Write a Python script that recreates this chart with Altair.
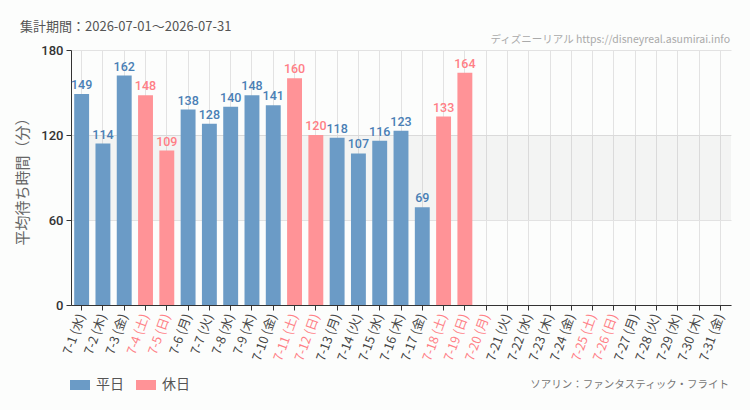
import altair as alt
import pandas as pd

# ---- data ----
dates = ["7-1", "7-2", "7-3", "7-4", "7-5", "7-6", "7-7", "7-8", "7-9", "7-10",
         "7-11", "7-12", "7-13", "7-14", "7-15", "7-16", "7-17", "7-18", "7-19", "7-20",
         "7-21", "7-22", "7-23", "7-24", "7-25", "7-26", "7-27", "7-28", "7-29", "7-30", "7-31"]
weekdays = ["水", "木", "金", "土", "日", "月", "火", "水", "木", "金",
            "土", "日", "月", "火", "水", "木", "金", "土", "日", "月",
            "火", "水", "木", "金", "土", "日", "月", "火", "水", "木", "金"]
day_types = ["平日", "平日", "平日", "休日", "休日", "平日", "平日", "平日", "平日", "平日",
             "休日", "休日", "平日", "平日", "平日", "平日", "平日", "休日", "休日", "休日",
             "平日", "平日", "平日", "平日", "休日", "休日", "平日", "平日", "平日", "平日", "平日"]
wait_minutes = [149, 114, 162, 148, 109, 138, 128, 140, 148, 141,
                160, 120, 118, 107, 116, 123, 69, 133, 164, None,
                None, None, None, None, None, None, None, None, None, None, None]
y_ticks = [0, 60, 120, 180]
band_range = [60, 120]

title_text = "集計期間：2026-07-01～2026-07-31"
site_text = "ディズニーリアル https://disneyreal.asumirai.info"
credit_text = "ソアリン：ファンタスティック・フライト"
y_title = "平均待ち時間（分）"

labels = [f"{d} ({w})" for d, w in zip(dates, weekdays)]
df = pd.DataFrame({"label": labels, "type": day_types, "value": wait_minutes})
holiday_labels = [l for l, t in zip(labels, day_types) if t == "休日"]

W, H = 660, 255
BLUE, PINK = "#6b9bc6", "#ff9397"
BLUE_T, PINK_T = "#4a7fb5", "#ff7f86"
JP = "'Noto Sans CJK JP', sans-serif"
NUM = "Roboto, sans-serif"

holiday_expr = "indexof(" + str(holiday_labels).replace("'", '"') + ", datum.value) >= 0"

x_enc = alt.X(
    "label:N",
    sort=labels,
    scale=alt.Scale(domain=labels, paddingInner=0.3, paddingOuter=0.15),
    axis=alt.Axis(
        title=None, labelAngle=-70, labelAlign="right", labelBaseline="middle",
        labelPadding=4, labelFont=JP, labelFontSize=12.5,
        labelColor={"condition": {"test": holiday_expr, "value": PINK_T}, "value": "#444"},
        grid=True, gridColor="#e2e2e2", domainColor="#333", tickColor="#333", tickSize=5,
        labelOverlap=False,
    ),
)
y_enc = alt.Y(
    "value:Q",
    scale=alt.Scale(domain=[0, 180]),
    axis=alt.Axis(
        values=y_ticks, title=y_title, titleFont=JP, titleFontSize=15, titleColor="#666",
        titleFontWeight="normal", titlePadding=10,
        labelFont=NUM, labelFontSize=13, labelColor="#333", labelPadding=3,
        labelFontWeight=500,
        grid=True, gridColor="#e2e2e2", domainColor="#333", tickColor="#333", tickSize=5,
    ),
)

base = alt.Chart(df)

band = alt.Chart(pd.DataFrame({"lo": [band_range[0]], "hi": [band_range[1]]})).mark_rect(
    color="#000", opacity=0.035
).encode(
    x=alt.value(0), x2=alt.value(W),
    y=alt.Y("lo:Q", scale=alt.Scale(domain=[0, 180])), y2="hi:Q",
)

bars = base.mark_bar().encode(
    x=x_enc,
    y=y_enc,
    color=alt.Color(
        "type:N",
        scale=alt.Scale(domain=["平日", "休日"], range=[BLUE, PINK]),
        legend=alt.Legend(
            title=None, orient="none", direction="horizontal",
            legendX=-1, legendY=325,
            symbolType="M-1,-0.5H1V0.5H-1Z", symbolSize=400, symbolStrokeWidth=0,
            symbolOpacity=1, labelFont=JP, labelFontSize=14, labelColor="#555",
            labelOffset=6, columnPadding=12, padding=0,
        ),
    ),
)

values_text = base.transform_filter("isValid(datum.value)").mark_text(
    baseline="bottom", dy=-2, font=NUM, fontSize=12.5, fontWeight=500
).encode(
    x=alt.X("label:N", sort=labels),
    y=alt.Y("value:Q"),
    text=alt.Text("value:Q", format="d"),
    color=alt.condition(alt.datum.type == "休日", alt.value(PINK_T), alt.value(BLUE_T)),
)

def note(txt, x, y, align, size, color, font):
    return alt.Chart(pd.DataFrame({"t": [txt]})).mark_text(
        align=align, baseline="middle", fontSize=size, color=color, font=font
    ).encode(text="t:N", x=alt.value(x), y=alt.value(y))

title = note(title_text, -51, -23, "left", 13, "#555", JP)
site = note(site_text, W - 1, -10, "right", 10.5, "#aaa", JP)
credit = note(credit_text, W - 2, 335, "right", 10.5, "#777", JP)

chart = alt.layer(band, bars, values_text, title, site, credit).properties(
    width=W, height=H,
    autosize=alt.AutoSizeParams(type="none"),
    padding={"left": 71, "top": 50, "right": 19, "bottom": 105},
    background="#fcfdfc",
).configure_view(stroke=None)

chart.save("out.html", embed_options={"renderer": "svg", "actions": False})
